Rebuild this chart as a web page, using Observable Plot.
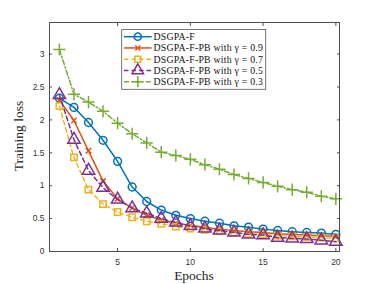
<!DOCTYPE html>
<html>
<head>
<meta charset="utf-8">
<script src="https://cdn.jsdelivr.net/npm/d3@7"></script>
<script src="https://cdn.jsdelivr.net/npm/@observablehq/plot@0.6"></script>
<style>
  html, body { margin: 0; padding: 0; background: #fff; }
  #chart { position: relative; width: 374px; height: 284px; }
</style>
</head>
<body>
<div id="chart"></div>
<script>
const epochs = [1,2,3,4,5,6,7,8,9,10,11,12,13,14,15,16,17,18,19,20];
const lossF    = [2.33,2.19,1.96,1.69,1.37,0.98,0.76,0.63,0.55,0.50,0.46,0.43,0.39,0.37,0.34,0.32,0.30,0.29,0.28,0.26];
const loss09   = [2.30,1.99,1.53,1.07,0.80,0.66,0.55,0.48,0.43,0.40,0.37,0.34,0.32,0.30,0.29,0.27,0.26,0.25,0.24,0.23];
const loss07   = [2.21,1.43,0.94,0.72,0.60,0.52,0.46,0.42,0.38,0.35,0.33,0.31,0.29,0.27,0.26,0.24,0.23,0.22,0.21,0.20];
const loss05   = [2.38,1.70,1.23,0.97,0.79,0.66,0.58,0.50,0.44,0.39,0.35,0.32,0.29,0.26,0.25,0.21,0.20,0.19,0.17,0.15];
const loss03   = [3.07,2.39,2.27,2.13,1.95,1.79,1.65,1.51,1.46,1.40,1.32,1.25,1.17,1.11,1.05,0.99,0.94,0.90,0.84,0.80];
const seriesNames = ["DSGPA-F","DSGPA-F-PB with γ = 0.9","DSGPA-F-PB with γ = 0.7","DSGPA-F-PB with γ = 0.5","DSGPA-F-PB with γ = 0.3"];
const xTicks = [5,10,15,20];
const yTicks = [0,0.5,1,1.5,2,2.5,3];

const seriesValues = [lossF, loss09, loss07, loss05, loss03];
const styles = [
  {color:"#0072BD", dash:null,        symbol:"circle",   r:3.9, sw:1.5},
  {color:"#D95319", dash:null,        symbol:"times",    r:2.6, sw:1.5},
  {color:"#EDB120", dash:"4.5,3",     symbol:"square",   r:3.6, sw:1.4},
  {color:"#7E2F8E", dash:"4.5,3",     symbol:"triangle", r:4.6, sw:1.5},
  {color:"#77AC30", dash:"5,2.2,1.5,2.2", symbol:"plus", r:4.0, sw:1.5}
];

const marks = [];
seriesValues.forEach((vals, i) => {
  const data = epochs.map((e, j) => ({epoch: e, loss: vals[j]}));
  const s = styles[i];
  marks.push(Plot.line(data, {x:"epoch", y:"loss", stroke:s.color, strokeWidth:s.sw, strokeDasharray:s.dash}));
  marks.push(Plot.dot(data, {x:"epoch", y:"loss", symbol:s.symbol, r:s.r, stroke:s.color, fill:"none", strokeWidth:1.5}));
});

const axisColor = "#4d4d4d";
const plot = Plot.plot({
  width: 374,
  height: 284,
  marginLeft: 49,
  marginRight: 35,
  marginTop: 22,
  marginBottom: 33,
  style: {background:"#fff", fontFamily:"'Liberation Sans', Arial, sans-serif", fontSize:"8.5px", color:"#333"},
  x: {domain:[0.32, 20.25]},
  y: {domain:[0, 3.48]},
  marks: [
    ...marks,
    Plot.frame({stroke: axisColor, strokeWidth: 1}),
    Plot.axisX(xTicks, {anchor:"bottom", tickSize:-3, text:null, stroke:axisColor, label:null}),
    Plot.axisX(xTicks, {anchor:"top", tickSize:-3, text:null, stroke:axisColor, label:null}),
    Plot.axisY(yTicks, {anchor:"left", tickSize:-3, text:null, stroke:axisColor, label:null}),
    Plot.axisY(yTicks, {anchor:"right", tickSize:-3, text:null, stroke:axisColor, label:null}),
    Plot.axisX(xTicks, {anchor:"bottom", tickSize:0, tickPadding:7, fill:"#333", label:null}),
    Plot.axisY(yTicks, {anchor:"left", tickSize:0, tickPadding:5, fill:"#333", label:null, tickFormat: d => String(d)})
  ]
});

const chart = document.getElementById("chart");
chart.appendChild(plot);

// Axis titles and legend
const svg = d3.select(plot);
svg.append("text")
  .attr("x", 194).attr("y", 279.5)
  .attr("text-anchor", "middle")
  .attr("font-family", "'Liberation Serif', 'DejaVu Serif', serif")
  .attr("font-size", 13.5)
  .attr("fill", "#222")
  .text("Epochs");
svg.append("text")
  .attr("transform", "translate(23,136) rotate(-90)")
  .attr("text-anchor", "middle")
  .attr("font-family", "'Liberation Serif', 'DejaVu Serif', serif")
  .attr("font-size", 13.5)
  .attr("fill", "#222")
  .text("Training loss");

const leg = svg.append("g");
const lx0 = 121.7, ly0 = 29.5, lw = 144, lh = 59.8;
leg.append("rect").attr("x", lx0).attr("y", ly0).attr("width", lw).attr("height", lh)
  .attr("fill", "#fff").attr("stroke", "#555").attr("stroke-width", 0.8);
const d3sym = {circle:d3.symbolCircle, times:d3.symbolTimes, square:d3.symbolSquare, triangle:d3.symbolTriangle, plus:d3.symbolPlus};
seriesNames.forEach((name, i) => {
  const s = styles[i];
  const cy = 36.7 + i * 11.25;
  leg.append("line").attr("x1", 124).attr("x2", 151.7).attr("y1", cy).attr("y2", cy)
    .attr("stroke", s.color).attr("stroke-width", s.sw)
    .attr("stroke-dasharray", s.dash);
  leg.append("path")
    .attr("d", d3.symbol(d3sym[s.symbol], Math.PI * s.r * s.r * 0.85)())
    .attr("transform", `translate(137.8,${cy})`)
    .attr("fill", "none").attr("stroke", s.color).attr("stroke-width", 1.5);
  leg.append("text").attr("x", 153.5).attr("y", cy).attr("dy", "0.35em")
    .attr("text-anchor", "start")
    .attr("font-family", "'Liberation Serif', 'DejaVu Serif', serif")
    .attr("font-size", 9.8).attr("letter-spacing", 0.22).attr("fill", "#111")
    .text(name);
});
</script>
</body>
</html>
